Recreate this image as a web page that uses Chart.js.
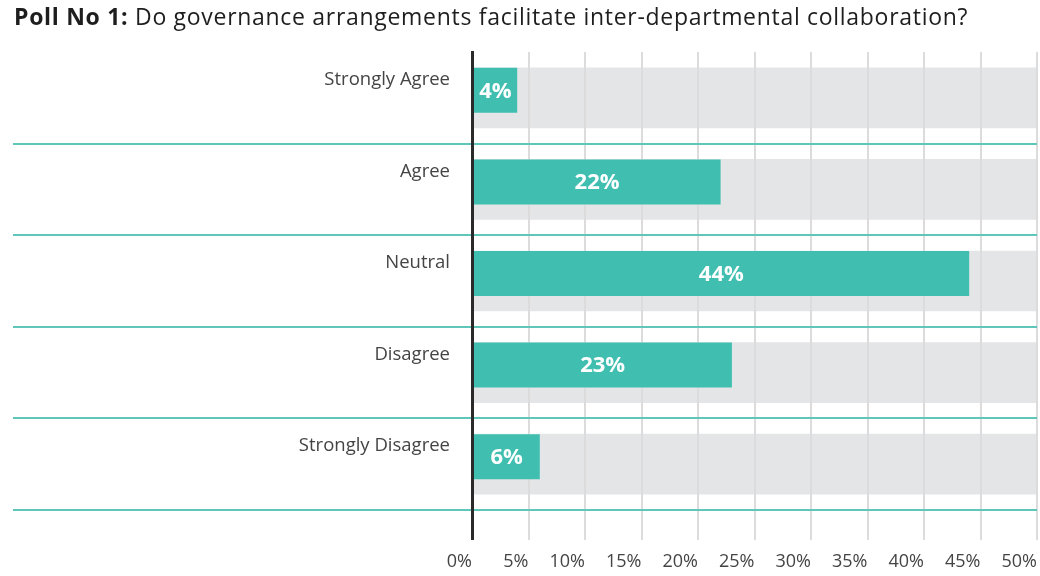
<!DOCTYPE html>
<html>
<head>
<meta charset="utf-8">
<script src="https://cdn.jsdelivr.net/npm/chart.js@4.4.1/dist/chart.umd.min.js"></script>
<style>
html,body{margin:0;padding:0;background:#fff;}
#wrap{position:relative;width:1040px;height:576px;overflow:hidden;}
#title{position:absolute;left:14px;top:1px;font-family:'Open Sans',sans-serif;font-size:23px;letter-spacing:0.7px;line-height:30px;color:#1e1e1e;white-space:nowrap;}
#title b{font-weight:700;}
canvas{position:absolute;left:0;top:0;}
</style>
</head>
<body>
<div id="wrap">
<canvas id="c" width="1040" height="576"></canvas>
<div id="title"><b>Poll No 1:</b> Do governance arrangements facilitate inter-departmental collaboration?</div>
</div>
<script>
const categories = ['Strongly Agree', 'Agree', 'Neutral', 'Disagree', 'Strongly Disagree'];
const percentValues = [4, 22, 44, 23, 6];
const trackValues = [50, 50, 50, 50, 50];
const spacerValues = [null, null, null, null, null];
const axisMin = 0, axisMax = 50, axisStep = 5;

const TEAL = '#40bfb1';
const TRACK = '#e4e5e7';
const SEP = '#5fc7ba';
const GRID = '#dcdcdc';
const DARK = '#2a2a2a';
const FONT = "'Open Sans', sans-serif";
Chart.defaults.font.family = FONT;

const layerPlugin = {
  id: 'layers',
  beforeDatasetDraw(chart, args) {
    if (args.index !== 0) return;
    // gridlines sit above the grey track but below the teal bars
    chart.scales.x.drawGrid(chart.chartArea);
    // teal separator lines between categories
    const y = chart.scales.y;
    const half = (y.getPixelForValue(1) - y.getPixelForValue(0)) / 2;
    const ctx = chart.ctx;
    ctx.save();
    ctx.strokeStyle = SEP;
    ctx.lineWidth = 2;
    for (let i = 0; i < categories.length; i++) {
      const py = Math.round(y.getPixelForValue(i) + half);
      ctx.beginPath();
      ctx.moveTo(13, py);
      ctx.lineTo(chart.chartArea.right, py);
      ctx.stroke();
    }
    ctx.restore();
  },
  afterDatasetsDraw(chart) {
    const meta = chart.getDatasetMeta(0);
    const ctx = chart.ctx;
    ctx.save();
    ctx.fillStyle = '#ffffff';
    ctx.font = "bold 22px " + FONT;
    ctx.textAlign = 'center';
    ctx.textBaseline = 'middle';
    meta.data.forEach((el, i) => {
      ctx.fillText(percentValues[i] + '%', (el.x + el.base) / 2, el.y + 1);
    });
    ctx.restore();
  }
};

const isZero = c => c.tick && c.tick.value === 0;

new Chart(document.getElementById('c'), {
  type: 'bar',
  data: {
    labels: categories,
    datasets: [
      {
        data: percentValues,
        backgroundColor: TEAL,
        order: 0,
        grouped: true,
        categoryPercentage: 30 / 91.6,
        barPercentage: 3
      },
      {
        data: spacerValues,
        backgroundColor: 'rgba(0,0,0,0)',
        order: 1,
        grouped: true
      },
      {
        data: trackValues,
        backgroundColor: TRACK,
        order: 2,
        grouped: false,
        barThickness: 60
      }
    ]
  },
  options: {
    indexAxis: 'y',
    responsive: false,
    animation: false,
    events: [],
    layout: { padding: { top: 52, right: 3, left: 0, bottom: 0 } },
    plugins: { legend: { display: false }, tooltip: { enabled: false }, title: { display: false } },
    scales: {
      x: {
        min: axisMin,
        max: axisMax,
        ticks: {
          stepSize: axisStep,
          align: 'end',
          padding: 2,
          color: '#444',
          font: { size: 18, family: FONT, lineHeight: 2.2 },
          callback: v => v + '%'
        },
        grid: {
          color: c => isZero(c) ? DARK : GRID,
          lineWidth: c => isZero(c) ? 3 : 2,
          tickColor: c => isZero(c) ? DARK : GRID,
          tickWidth: c => isZero(c) ? 3 : 2,
          tickLength: 30,
          drawTicks: true
        },
        border: { display: false },
        afterFit: s => { s.height = 66; }
      },
      y: {
        ticks: {
          color: '#444',
          padding: 22,
          labelOffset: -18,
          font: { size: 18.5, family: FONT }
        },
        grid: { display: false, drawTicks: false },
        border: { display: true, color: DARK, width: 3, z: 1 },
        afterFit: s => { s.width = 472; }
      }
    }
  },
  plugins: [layerPlugin]
});
</script>
</body>
</html>
